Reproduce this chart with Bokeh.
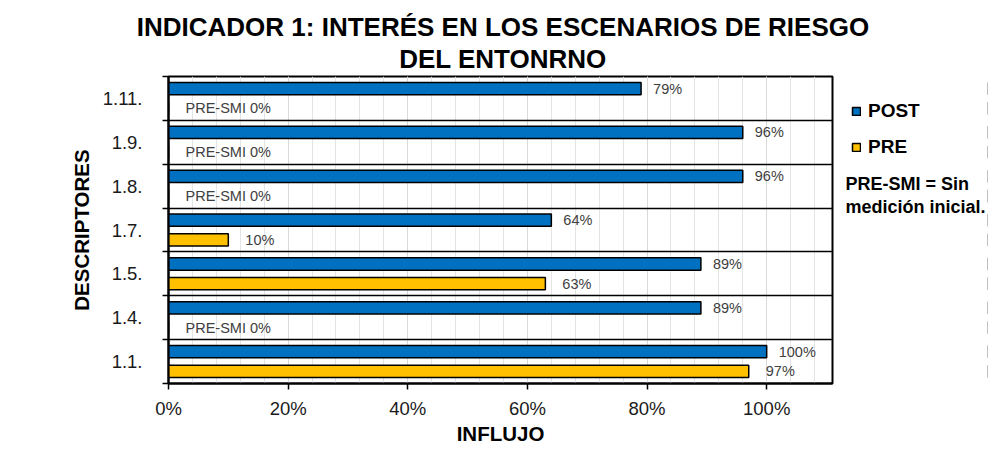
from bokeh.plotting import figure
from bokeh.layouts import row, column
from bokeh.models import (ColumnDataSource, FixedTicker, Label, Legend, LegendItem,
                          Title, Range1d)
from bokeh.core.properties import value
from bokeh.embed import file_html
from bokeh.resources import INLINE

# ---------------- data ----------------
categories = ["1.1.", "1.4.", "1.5.", "1.7.", "1.8.", "1.9.", "1.11."]
post_values = [100, 89, 89, 64, 96, 96, 79]
pre_values = [97, 0, 63, 10, 0, 0, 0]
pre_measured = [True, False, True, True, False, False, False]
x_tick_values = [0, 20, 40, 60, 80, 100]
x_tick_labels = ["0%", "20%", "40%", "60%", "80%", "100%"]
x_minor_step = 4
x_max = 111
series_names = ["POST", "PRE"]
title_lines = ["INDICADOR 1: INTERÉS EN LOS ESCENARIOS DE RIESGO", "DEL ENTONRNO"]
note_lines = ["PRE-SMI = Sin", "medición inicial."]

POST_COLOR = "#0070C0"
PRE_COLOR = "#FFC000"
FONT = "Liberation Sans"

n = len(categories)
centers = list(range(n))
boundaries = [i - 0.5 for i in range(n + 1)]
offset = 0.225
bar_h = 0.28

post_src = ColumnDataSource(dict(
    y=[c + offset for c in centers], x=post_values,
    label=[f"{v}%" for v in post_values]))
pre_src = ColumnDataSource(dict(
    y=[c - offset for c in centers], x=pre_values,
    label=[f"{v}%" if m else f"PRE-SMI {v}%" for v, m in zip(pre_values, pre_measured)]))

TITLE_H = 75
H = 372

# ---------------- title strip ----------------
head = figure(width=988, height=TITLE_H, output_backend="svg", toolbar_location=None,
              title=None, x_range=Range1d(0, 1), y_range=Range1d(0, 1),
              min_border=0, min_border_left=167, min_border_right=150,
              min_border_top=73, min_border_bottom=0,
              x_axis_type=None, y_axis_type=None)
head.outline_line_color = None
head.xgrid.visible = False
head.ygrid.visible = False
head.border_fill_color = "white"
for line in reversed(title_lines):
    head.add_layout(Title(text=line, align="center", text_font=FONT,
                          text_font_size="26px", text_font_style="bold",
                          text_color="black", standoff=0, offset=0), "above")

# ---------------- main chart ----------------
p = figure(width=836, height=H, output_backend="svg", toolbar_location=None, title=None,
           x_range=Range1d(0, x_max), y_range=Range1d(-0.5, n - 0.5),
           min_border_left=168, min_border_right=4, min_border_top=1,
           min_border_bottom=61)

r_post = p.hbar(y="y", right="x", left=0, height=bar_h, source=post_src,
                fill_color=POST_COLOR, line_color="black", line_width=1.5)
r_pre = p.hbar(y="y", right="x", left=0, height=bar_h, source=pre_src,
               fill_color=PRE_COLOR, line_color="black", line_width=1.5)

p.text(x="x", y="y", text="label", source=post_src, x_offset=12,
       text_font=value(FONT), text_font_size="14.5px", text_color="#404040",
       text_baseline="middle", text_align="left")
p.text(x="x", y="y", text="label", source=pre_src, x_offset=17,
       text_font=value(FONT), text_font_size="14.5px", text_color="#404040",
       text_baseline="middle", text_align="left")

p.xaxis.ticker = FixedTicker(ticks=x_tick_values,
                             minor_ticks=list(range(0, x_max, x_minor_step)))
p.xaxis.major_label_overrides = {v: l for v, l in zip(x_tick_values, x_tick_labels)}
p.xaxis.axis_label = "INFLUJO"
p.xaxis.minor_tick_line_color = None
p.xaxis.major_tick_out = 6
p.xaxis.major_tick_in = 0
p.xaxis.major_label_standoff = 8
p.xaxis.axis_label_standoff = 0

p.yaxis.ticker = FixedTicker(ticks=centers, minor_ticks=boundaries)
p.yaxis.major_label_overrides = {c: cat for c, cat in zip(centers, categories)}
p.yaxis.axis_label = "DESCRIPTORES"
p.yaxis.major_tick_out = 0
p.yaxis.major_tick_in = 0
p.yaxis.minor_tick_out = 6
p.yaxis.minor_tick_in = 0
p.yaxis.minor_tick_line_color = "black"
p.yaxis.minor_tick_line_width = 1.5
p.yaxis.major_label_standoff = 20
p.yaxis.axis_label_standoff = 7

for ax in (p.xaxis, p.yaxis):
    ax.axis_line_color = "black"
    ax.axis_line_width = 2
    ax.major_tick_line_color = "black"
    ax.major_tick_line_width = 1.5
    ax.major_label_text_font = FONT
    ax.major_label_text_font_size = "18.5px"
    ax.major_label_text_color = "#1a1a1a"
    ax.axis_label_text_font = FONT
    ax.axis_label_text_font_size = "20.5px"
    ax.axis_label_text_font_style = "bold"
    ax.axis_label_text_color = "black"

p.xgrid.grid_line_color = "#d9d9d9"
p.xgrid.minor_grid_line_color = "#e4e4e4"
p.xgrid.grid_line_width = 1
p.ygrid.ticker = FixedTicker(ticks=boundaries)
p.ygrid.grid_line_color = "black"
p.ygrid.grid_line_width = 1.5
p.ygrid.level = "glyph"

p.outline_line_color = "black"
p.outline_line_width = 2
p.background_fill_color = "white"
p.border_fill_color = "white"

# ---------------- side panel: legend + note ----------------
# the side panel shows the same two series, but its x range lies left of zero,
# so the bars themselves stay out of view and only their legend swatches show
side = figure(width=152, height=H, output_backend="svg", toolbar_location=None, title=None,
              x_range=Range1d(-2 * x_max, -x_max), y_range=Range1d(-0.5, n - 0.5),
              min_border=0, x_axis_type=None, y_axis_type=None)
side.outline_line_color = None
side.xgrid.visible = False
side.ygrid.visible = False
side.background_fill_color = "white"
side.border_fill_color = "white"

lg_post = side.hbar(y="y", right="x", left=0, height=bar_h, source=post_src,
                    fill_color=POST_COLOR, line_color="black", line_width=1.5)
lg_pre = side.hbar(y="y", right="x", left=0, height=bar_h, source=pre_src,
                   fill_color=PRE_COLOR, line_color="black", line_width=1.5)

legend = Legend(items=[LegendItem(label=series_names[0], renderers=[lg_post]),
                       LegendItem(label=series_names[1], renderers=[lg_pre])],
                location=(15, 225), glyph_width=10, glyph_height=10,
                label_height=20, spacing=14, padding=0, margin=0,
                label_standoff=7, border_line_color=None,
                background_fill_alpha=0,
                label_text_font=FONT, label_text_font_size="19px",
                label_text_font_style="bold", label_text_color="black")
side.add_layout(legend, "center")

for i, line in enumerate(note_lines):
    side.add_layout(Label(x=9, y=200 - 23 * i, x_units="screen", y_units="screen",
                          text=line, text_font=FONT, text_font_size="18px",
                          text_font_style="bold", text_color="black",
                          text_baseline="middle", text_align="left"))

layout = column(head, row(p, side, spacing=0), spacing=0)
open("out.html", "w").write(file_html(layout, INLINE))
